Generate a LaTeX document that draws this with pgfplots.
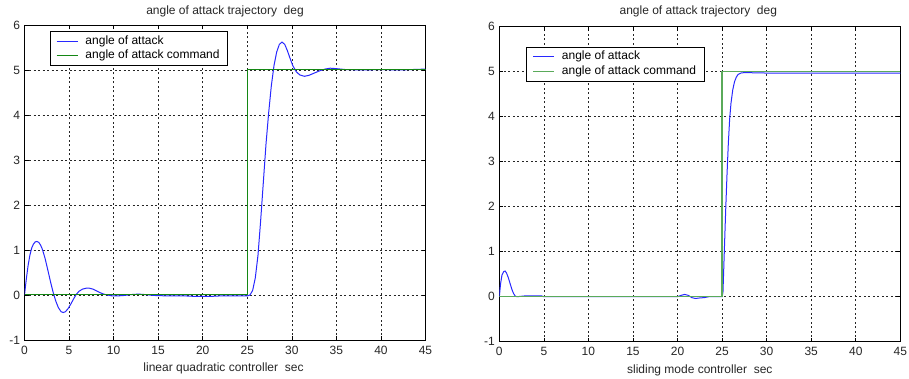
\documentclass[border=0pt]{standalone}
\usepackage{fontspec}
\setmainfont{Liberation Sans}
\usepackage{pgfplots}
\pgfplotsset{compat=1.18}
\definecolor{mblue}{RGB}{40,40,255}
\definecolor{mgreenA}{RGB}{20,135,20}
\definecolor{mgreenB}{RGB}{90,170,90}
\newcommand{\mf}{\fontsize{12}{14}\selectfont}
\pgfplotsset{mystyle/.style={
  scale only axis, width=401pt, height=315pt,
  xmin=0, xmax=45, ymin=-1, ymax=6,
  xtick={0,5,...,45}, ytick={-1,0,...,6},
  grid=major,
  major grid style={black!85, dash pattern=on 2pt off 2.5pt, line width=0.6pt},
  axis line style={black, line width=0.8pt},
  tick align=inside, major tick length=4pt,
  tick style={black, line width=0.6pt},
  /pgf/number format/assume math mode=true,
  tick label style={font=\mf, black!85},
  xticklabel style={anchor=north, inner sep=0pt, yshift=-5.6pt},
  yticklabel style={anchor=east, inner sep=0pt, xshift=-4.2pt},
  every axis title shift=0pt,
  title style={font=\mf, black!85, anchor=center, at={(0.5,1)}},
  xlabel style={font=\mf, black!85, anchor=center, at={(0.5,0)}},
  legend style={draw=black, line width=0.8pt, fill=white, font=\mf,
    inner xsep=4pt, inner ysep=2.7pt, row sep=0pt,
    nodes={inner xsep=4pt, inner ysep=1.2pt, text height=9pt, text depth=2.9pt},
    /tikz/every odd column/.style={column sep=3.4pt}},
  legend cell align=left,
  legend image code/.code={\path (0pt,0pt); \draw[##1, line width=1pt] (2pt,0pt) -- (23pt,0pt);},
}}
\begin{document}
\begin{tikzpicture}[x=1pt,y=1pt]
\path[use as bounding box] (0,0) rectangle (909,379);
\begin{axis}[mystyle, at={(24.5pt,39pt)}, anchor=south west,
  title={angle of attack trajectory\ \ deg}, title style={yshift=13.3pt},
  xlabel={linear quadratic controller\ \ sec}, xlabel style={yshift=-28.5pt, xshift=-1.5pt},
  legend style={at={(0.0628,0.98)}, anchor=north west}]
\addplot[mblue, line width=1pt] coordinates {
(0,0) (0.2,0.35) (0.4,0.65) (0.6,0.88) (0.8,1.04) (1.0,1.13) (1.2,1.18) (1.4,1.19)
(1.6,1.17) (1.8,1.11) (2.0,1.02) (2.3,0.82) (2.6,0.57) (2.9,0.31) (3.2,0.07)
(3.5,-0.13) (3.8,-0.28) (4.1,-0.37) (4.35,-0.39) (4.6,-0.37) (4.9,-0.30) (5.2,-0.20)
(5.5,-0.09) (5.8,0.01) (6.1,0.08) (6.5,0.13) (6.9,0.15) (7.3,0.15) (7.7,0.13)
(8.1,0.09) (8.5,0.05) (8.9,0.02) (9.3,0.00) (9.8,-0.02) (10.5,-0.02) (11.2,-0.01)
(12,0.01) (12.8,0.02) (13.5,0.01) (14.5,-0.01) (16,-0.02) (18,-0.02) (19,-0.03)
(20,-0.03) (21,-0.03) (22,-0.02) (23,-0.02) (24,-0.02) (25,-0.02) (25.3,0.0)
(25.6,0.1) (25.9,0.38) (26.2,0.88) (26.5,1.65) (26.8,2.5) (27.1,3.35) (27.4,4.05)
(27.7,4.65) (28.0,5.1) (28.3,5.4) (28.6,5.57) (28.9,5.62) (29.2,5.57) (29.5,5.43)
(29.8,5.26) (30.1,5.1) (30.5,4.96) (30.9,4.89) (31.4,4.86) (31.9,4.88) (32.5,4.93)
(33.1,4.98) (33.7,5.02) (34.3,5.04) (35,5.03) (36,5.01) (38,5.0) (40,5.01) (42,5.0) (45,5.02)
};
\addlegendentry{angle of attack}
\addplot[mgreenA, line width=1pt] coordinates {(0,0) (25,0) (25,5) (45,5)};
\addlegendentry{angle of attack command}
\end{axis}
\begin{axis}[mystyle, at={(499.3pt,37.3pt)}, anchor=south west,
  title={angle of attack trajectory\ \ deg}, title style={yshift=14.8pt, xshift=-1.5pt},
  xlabel={sliding mode controller\ \ sec}, xlabel style={yshift=-29pt},
  legend style={at={(0.0666,0.9365)}, anchor=north west}]
\addplot[mblue, line width=1pt] coordinates {
(0,0) (0.15,0.3) (0.3,0.48) (0.5,0.56) (0.65,0.57) (0.8,0.53) (1.0,0.43) (1.2,0.30)
(1.4,0.17) (1.6,0.07) (1.8,0.01) (2.0,0.0) (2.5,0.01) (3,0.02) (4.7,0.02) (5,0.0)
(20,0.0) (20.4,0.03) (20.8,0.05) (21.2,0.03) (21.6,-0.02) (22,-0.04) (22.4,-0.03)
(23,-0.02) (23.5,0) (25,0.0) (25.1,0.1) (25.25,1.0) (25.4,1.9) (25.55,2.7) (25.7,3.4)
(25.85,3.95) (26.0,4.3) (26.2,4.6) (26.4,4.78) (26.6,4.88) (26.8,4.94) (27.1,4.97)
(27.5,4.98) (30,4.97) (45,4.97)
};
\addlegendentry{angle of attack}
\addplot[mgreenB, line width=1.3pt] coordinates {(0,0) (25,0) (25,5) (45,5)};
\addlegendentry{angle of attack command}
\end{axis}
\end{tikzpicture}
\end{document}
